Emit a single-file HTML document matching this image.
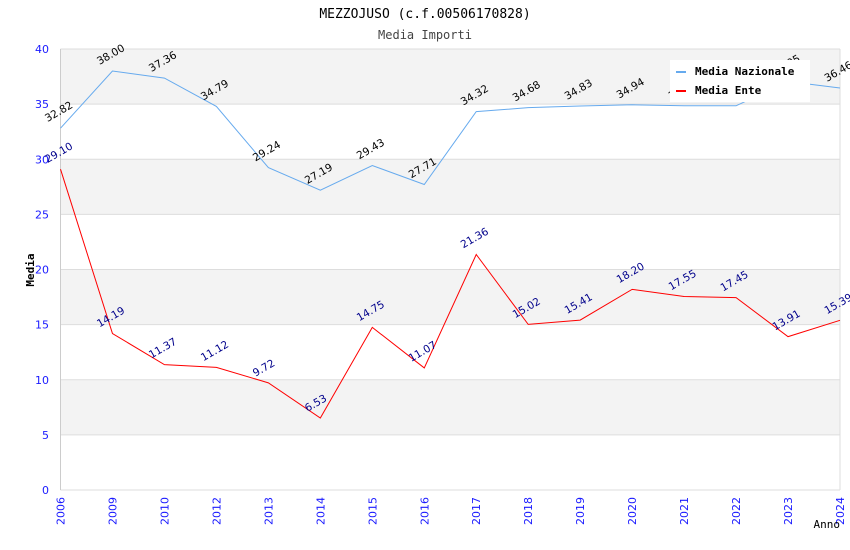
<!DOCTYPE html>
<html><head><meta charset="utf-8">
<style>
body{margin:0;background:#fff;width:850px;height:550px;overflow:hidden}
svg{display:block;font-family:"DejaVu Sans","Liberation Sans",sans-serif}
</style></head>
<body>
<svg id="chart" width="850" height="550">
<text x="425" y="18" text-anchor="middle" font-family="DejaVu Sans Mono, Liberation Mono, monospace" font-size="13" fill="#000">MEZZOJUSO (c.f.00506170828)</text>
<text x="425" y="39" text-anchor="middle" font-family="DejaVu Sans Mono, Liberation Mono, monospace" font-size="12" fill="#444">Media Importi</text>
<g id="bands"></g>
<g id="axes"></g>
<g id="series"></g>
<text x="34" y="270" transform="rotate(-90 34 270)" text-anchor="middle" font-family="DejaVu Sans Mono, Liberation Mono, monospace" font-size="11" font-weight="bold" fill="#000">Media</text>
<text x="840" y="528" text-anchor="end" font-family="DejaVu Sans Mono, Liberation Mono, monospace" font-size="11" fill="#000">Anno</text>
<g>
<rect x="670" y="60" width="140" height="42" fill="#fff"/>
<rect x="676" y="71" width="10" height="2" fill="#66aaee"/>
<text x="695" y="75" font-family="DejaVu Sans Mono, Liberation Mono, monospace" font-size="11" font-weight="bold">Media Nazionale</text>
<rect x="676" y="90" width="10" height="2" fill="#ff0000"/>
<text x="695" y="94" font-family="DejaVu Sans Mono, Liberation Mono, monospace" font-size="11" font-weight="bold">Media Ente</text>
</g>
</svg>
<script>
const categories=["2006","2009","2010","2012","2013","2014","2015","2016","2017","2018","2019","2020","2021","2022","2023","2024"];
const nazionale=[32.82,38.00,37.36,34.79,29.24,27.19,29.43,27.71,34.32,34.68,34.83,34.94,34.85,34.85,37.05,36.46];
const ente=[29.10,14.19,11.37,11.12,9.72,6.53,14.75,11.07,21.36,15.02,15.41,18.20,17.55,17.45,13.91,15.39];
const yTicks=[0,5,10,15,20,25,30,35,40];
const NS="http://www.w3.org/2000/svg";
const L=60.5,R=840,T=49,B=490,yMax=40;
function xs(i){return L+(R-L)*i/(categories.length-1);}
function ys(v){return B-(B-T)*v/yMax;}
function mk(tag,attrs,parent){const e=document.createElementNS(NS,tag);for(const k in attrs)e.setAttribute(k,attrs[k]);parent.appendChild(e);return e;}
const bands=document.getElementById('bands'),axes=document.getElementById('axes'),series=document.getElementById('series');
for(let i=0;i<yTicks.length-1;i++){
  const a=yTicks[i],b=yTicks[i+1];
  if(i%2===1){
    const r=mk('rect',{x:L,y:ys(b),width:R-L,height:ys(a)-ys(b),fill:'#f3f3f3'},bands);
    
    
  }
}
yTicks.forEach(v=>{
  const g=mk('line',{x1:L,x2:R,y1:ys(v),y2:ys(v),stroke:'#ddd','stroke-width':1},axes);
  
  
  const t=mk('text',{x:49,y:ys(v)+4,'text-anchor':'end','font-size':11,fill:'#1a1aff'},axes);
  t.textContent=v;
  
  
});
const ax=mk('line',{x1:L,x2:L,y1:T,y2:B,stroke:'#ccc'},axes);


const ax2=mk('line',{x1:R,x2:R,y1:T,y2:B,stroke:'#ddd'},axes);


categories.forEach((c,i)=>{
  const x=xs(i)+4,y=497;
  const t=mk('text',{x:x,y:y,transform:`rotate(-90 ${x} ${y})`,'text-anchor':'end','font-size':11,fill:'#1a1aff'},axes);
  t.textContent=c;
  
  
});
function draw(vals,color,labelColor,name){
  const p=mk('polyline',{points:vals.map((v,i)=>xs(i)+','+ys(v)).join(' '),fill:'none',stroke:color,'stroke-width':1},series);
  
  
  vals.forEach((v,i)=>{
    const x=xs(i)-13,y=ys(v)-6;
    const t=mk('text',{x:x,y:y,transform:`rotate(-30 ${x} ${y})`,'font-size':10.5,fill:labelColor},series);
    t.textContent=v.toFixed(2);
    
    
  });
}
draw(nazionale,'#66aaee','#000','nazionale');
draw(ente,'#ff0000','#00008b','ente');
</script>
</body></html>
